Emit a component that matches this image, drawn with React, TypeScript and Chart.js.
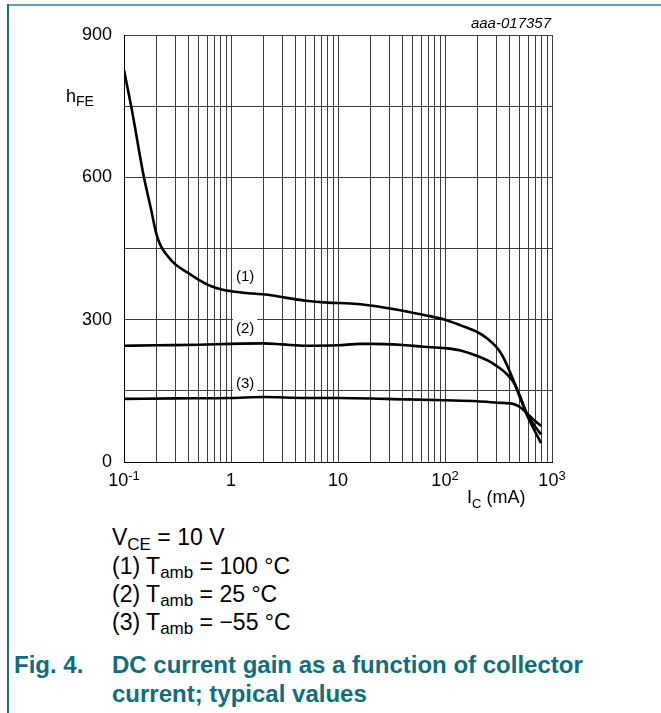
import React, { useEffect, useRef } from "react";
import { Chart, registerables } from "chart.js";

Chart.register(...registerables);

// ---- data (collector current in mA, DC current gain hFE) ----
const currentT100 = [0.1, 0.12, 0.15, 0.18, 0.2, 0.22, 0.25, 0.3, 0.4, 0.5, 0.63, 0.8, 1, 1.6, 2.1, 3.3, 5, 8, 13, 20, 38, 63, 100, 140, 200, 250, 300, 340, 380, 440, 500, 580, 680, 790];
const gainT100 = [826, 735, 612, 530, 482, 456, 437, 417, 398, 384, 372, 364, 360, 355, 353, 346, 340, 336, 334, 330, 320, 310, 300, 288, 274, 260, 243, 226, 204, 170, 137, 100, 68, 40];

const currentT25 = [0.1, 0.2, 0.5, 1, 2, 3, 5, 10, 16, 21, 38, 63, 100, 140, 186, 250, 310, 380, 440, 500, 580, 680, 790];
const gainT25 = [245, 246, 247, 249, 250, 248, 245, 246, 249, 249, 247, 243, 240, 235, 226, 214, 201, 185, 167, 140, 103, 78, 58];

const currentTm55 = [0.1, 0.3, 1, 2, 5, 10, 44, 100, 200, 310, 440, 500, 580, 680, 790];
const gainTm55 = [133, 134, 135, 137, 135, 135, 132, 130, 128, 125, 122, 116, 103, 88, 76];

const curveLabels = ["(1)", "(2)", "(3)"];
const curveLabelCurrent = [1.355, 1.355, 1.355];
const curveLabelGain = [392, 282, 166];

const xDecades = [0.1, 1, 10, 100, 1000];
const xMinorMultipliers = [1, 2, 3, 4, 5, 6, 7, 8, 9];
const xTickBase = ["10", "1", "10", "10", "10"];
const xTickExp = ["-1", "", "", "2", "3"];

const yGridValues = [0, 150, 300, 450, 600, 750, 900];
const yLabelValues = [0, 300, 600, 900];

const FONT = "'Liberation Sans', Arial, Helvetica, sans-serif";
const TEAL = "#0e6e7a";
const GRID = "#3c3c3c";

const xGridValues: number[] = [];
xDecades.forEach((d) => {
  if (d === 1000) {
    xGridValues.push(d);
  } else {
    xMinorMultipliers.forEach((m) => xGridValues.push(+(d * m).toPrecision(3)));
  }
});

const annotatePlugin = {
  id: "annotate",
  afterDraw(chart: any) {
    const ctx = chart.ctx;
    const xs = chart.scales.x;
    const ys = chart.scales.y;
    ctx.save();
    // curve labels with white boxes
    ctx.font = `15px ${FONT}`;
    ctx.textAlign = "center";
    ctx.textBaseline = "middle";
    curveLabels.forEach((t, i) => {
      const px = xs.getPixelForValue(curveLabelCurrent[i]);
      const py = ys.getPixelForValue(curveLabelGain[i]);
      const w = ctx.measureText(t).width + 6;
      ctx.fillStyle = "#fff";
      ctx.fillRect(px - w / 2, py - 10, w, 20);
      ctx.fillStyle = "#000";
      ctx.fillText(t, px, py + 1);
    });
    // x tick labels with superscript exponents
    ctx.textAlign = "left";
    ctx.textBaseline = "alphabetic";
    const baseY = chart.chartArea.bottom + 24;
    xDecades.forEach((d, i) => {
      const px = xs.getPixelForValue(d);
      ctx.font = `18px ${FONT}`;
      const wb = ctx.measureText(xTickBase[i]).width;
      ctx.font = `13px ${FONT}`;
      const we = xTickExp[i] ? ctx.measureText(xTickExp[i]).width : 0;
      const start = px - (wb + we) / 2;
      ctx.fillStyle = "#000";
      ctx.font = `18px ${FONT}`;
      ctx.fillText(xTickBase[i], start, baseY);
      if (xTickExp[i]) {
        ctx.font = `13px ${FONT}`;
        ctx.fillText(xTickExp[i], start + wb, baseY - 6);
      }
    });
    ctx.restore();
  },
};

function GainChart() {
  const ref = useRef<HTMLCanvasElement | null>(null);
  useEffect(() => {
    if (!ref.current) return;
    const mk = (xs: number[], ys: number[]) => xs.map((x, i) => ({ x, y: ys[i] }));
    const ds = (label: string, data: any) => ({
      label,
      data,
      borderColor: "#000",
      backgroundColor: "#000",
      borderWidth: 2.6,
      pointRadius: 0,
      cubicInterpolationMode: "monotone" as const,
      fill: false,
    });
    const chart = new Chart(ref.current, {
      type: "line",
      data: {
        datasets: [
          ds("Tamb = 100 °C", mk(currentT100, gainT100)),
          ds("Tamb = 25 °C", mk(currentT25, gainT25)),
          ds("Tamb = −55 °C", mk(currentTm55, gainTm55)),
        ],
      },
      options: {
        animation: false,
        responsive: false,
        maintainAspectRatio: false,
        devicePixelRatio: 1,
        layout: { padding: { left: 64, right: 109, top: 35, bottom: 18 } },
        plugins: { legend: { display: false }, tooltip: { enabled: false } },
        scales: {
          x: {
            type: "logarithmic",
            min: 0.1,
            max: 1000,
            afterBuildTicks: (s: any) => {
              s.ticks = xGridValues.map((v) => ({ value: v }));
            },
            afterFit: (s: any) => {
              s.height = 40;
            },
            ticks: { display: false },
            grid: { color: GRID, lineWidth: 1, drawTicks: false },
            border: { display: true, color: "#000", width: 1 },
          },
          y: {
            type: "linear",
            min: 0,
            max: 900,
            afterBuildTicks: (s: any) => {
              s.ticks = yGridValues.map((v) => ({ value: v }));
            },
            afterFit: (s: any) => {
              s.width = 60;
            },
            ticks: {
              font: { family: FONT, size: 18 },
              color: "#000",
              padding: 12,
              callback: (v: any) => (yLabelValues.includes(Number(v)) ? String(v) : ""),
            },
            grid: { color: GRID, lineWidth: 1, drawTicks: false },
            border: { display: true, color: "#000", width: 1 },
          },
        },
      } as any,
      plugins: [annotatePlugin],
    });
    return () => chart.destroy();
  }, []);
  return (
    <canvas
      ref={ref}
      width={661}
      height={520}
      style={{ position: "absolute", left: 0, top: 0, width: 661, height: 520 }}
    />
  );
}

const abs = (left: number, top: number, extra: any = {}) => ({
  position: "absolute" as const,
  left,
  top,
  whiteSpace: "nowrap" as const,
  lineHeight: 1,
  ...extra,
});

export default function App() {
  const noteStyle = { fontSize: 23, color: "#000" };
  const sub = (t: string, size: number, dy: number) => (
    <span style={{ fontSize: size, position: "relative", top: dy }}>{t}</span>
  );
  return (
    <div
      style={{
        position: "absolute",
        left: 0,
        top: 0,
        width: 661,
        height: 713,
        overflow: "hidden",
        background: "#fff",
        fontFamily: FONT,
      }}
    >
      <div style={{ position: "absolute", left: 7, top: 4, width: 654, height: 2, background: "#5aa5a9" }} />
      <div style={{ position: "absolute", left: 7, top: 4, width: 1.5, height: 709, background: "#1d6e7c" }} />
      <GainChart />
      <div style={abs(351, 15, { width: 200, textAlign: "right", fontSize: 15, fontStyle: "italic", color: "#000" })}>
        aaa-017357
      </div>
      <div style={abs(66, 86.5, { fontSize: 18, color: "#000" })}>
        h{sub("FE", 14, 4)}
      </div>
      <div style={abs(467, 488, { fontSize: 18, color: "#000" })}>
        I{sub("C", 13, 5)} (mA)
      </div>
      <div style={abs(112, 525.5, noteStyle)}>
        V{sub("CE", 17, 5)} = 10 V
      </div>
      <div style={abs(112, 554.5, noteStyle)}>
        (1) T{sub("amb", 17, 4)} = 100 °C
      </div>
      <div style={abs(112, 582.5, noteStyle)}>
        (2) T{sub("amb", 17, 4)} = 25 °C
      </div>
      <div style={abs(112, 610.5, noteStyle)}>
        (3) T{sub("amb", 17, 4)} = −55 °C
      </div>
      <div style={abs(14, 653, { fontSize: 24, fontWeight: "bold", color: TEAL })}>Fig. 4.</div>
      <div style={abs(112, 653, { fontSize: 24, fontWeight: "bold", color: TEAL })}>
        DC current gain as a function of collector
      </div>
      <div style={abs(112, 681.5, { fontSize: 24, fontWeight: "bold", color: TEAL })}>
        current; typical values
      </div>
    </div>
  );
}
